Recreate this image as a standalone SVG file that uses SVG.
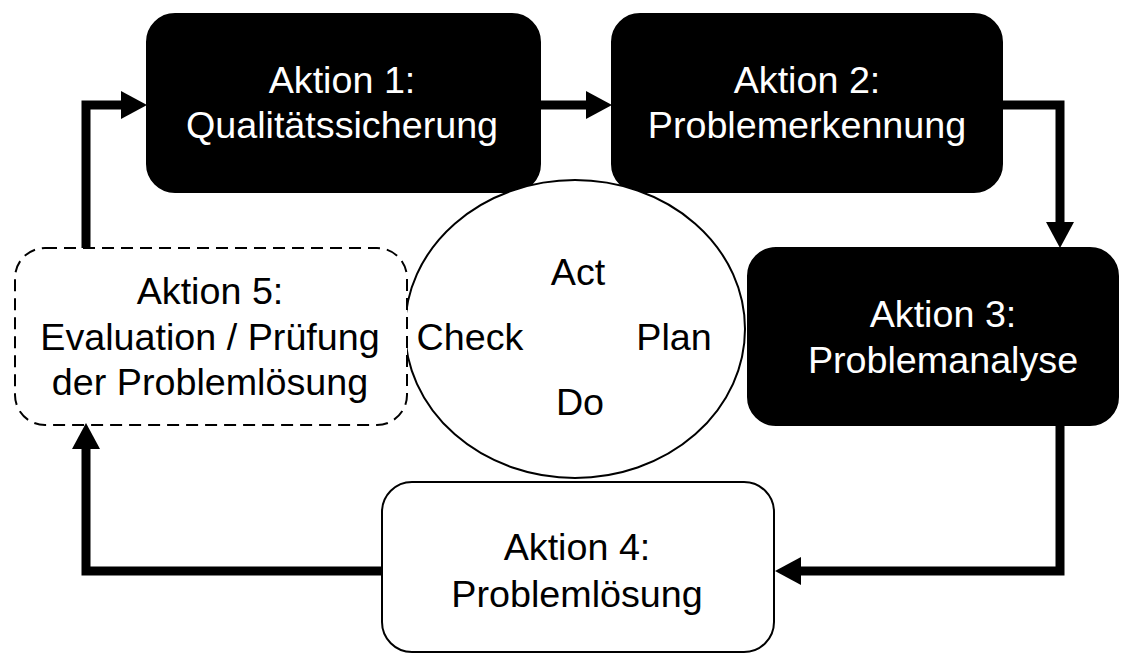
<svg xmlns="http://www.w3.org/2000/svg" width="1132" height="655" viewBox="0 0 1132 655">
<style>
.t{font-family:"Liberation Sans",Arial,sans-serif;font-size:37.7px;text-anchor:middle}
.w{fill:#fff}
.k{fill:#000}
.dark{fill:#000;stroke:#000;stroke-width:2}
.light{fill:#fff;stroke:#000;stroke-width:2}
.dash{fill:#fff;stroke:#000;stroke-width:2;stroke-dasharray:12 7}
.conn{fill:none;stroke:#000;stroke-width:9;stroke-linejoin:miter;stroke-linecap:butt}
</style>
<defs>
<marker id="ah" markerUnits="userSpaceOnUse" markerWidth="27" markerHeight="28" refX="0" refY="14" orient="auto" overflow="visible">
<path d="M0,0 L26,14 L0,28 Z" fill="#000"/>
</marker>
</defs>
<rect width="1132" height="655" fill="#fff"/>
<g id="node1">
<rect class="dark" x="147" y="14" width="393" height="178" rx="28"/>
<text class="t w" x="342" y="93">Aktion 1:</text>
<text class="t w" x="342" y="138">Qualitätssicherung</text>
</g>
<g id="node2">
<rect class="dark" x="612" y="14" width="390" height="178" rx="28"/>
<text class="t w" x="807" y="93">Aktion 2:</text>
<text class="t w" x="807" y="138">Problemerkennung</text>
</g>
<g id="pdca">
<ellipse cx="575" cy="329" rx="170" ry="149" fill="#fff" stroke="#000" stroke-width="2"/>
<text class="t k" x="578" y="285">Act</text>
<text class="t k" x="470" y="350">Check</text>
<text class="t k" x="674" y="350">Plan</text>
<text class="t k" x="580" y="415">Do</text>
</g>
<g id="node3">
<rect class="dark" x="748" y="248" width="370" height="177" rx="28"/>
<text class="t w" x="943" y="327">Aktion 3:</text>
<text class="t w" x="943" y="373">Problemanalyse</text>
</g>
<g id="node4">
<rect class="light" x="382" y="482" width="392" height="170" rx="30"/>
<text class="t k" x="577" y="560">Aktion 4:</text>
<text class="t k" x="577" y="607">Problemlösung</text>
</g>
<g id="node5">
<rect class="dash" x="15" y="248" width="392" height="177" rx="30"/>
<text class="t k" x="210" y="304">Aktion 5:</text>
<text class="t k" x="210" y="350">Evaluation / Prüfung</text>
<text class="t k" x="210" y="395">der Problemlösung</text>
</g>
<g id="connectors">
<path class="conn" d="M540,105 L586,105" marker-end="url(#ah)"/>
<path class="conn" d="M1002,105 L1060,105 L1060,222" marker-end="url(#ah)"/>
<path class="conn" d="M1060,425 L1060,571 L801,571" marker-end="url(#ah)"/>
<path class="conn" d="M382,571 L86,571 L86,449" marker-end="url(#ah)"/>
<path class="conn" d="M86,248 L86,105 L121,105" marker-end="url(#ah)"/>
</g>
</svg>
